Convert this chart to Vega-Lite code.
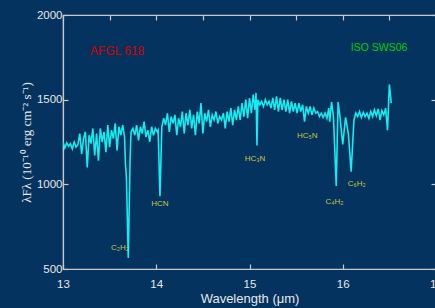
{
  "$schema": "https://vega.github.io/schema/vega-lite/v6.json",
  "width": 373,
  "height": 254,
  "autosize": {"type": "none"},
  "padding": {"left": 63, "top": 15, "right": 0, "bottom": 39},
  "background": "#04335f",
  "config": {
    "view": {"stroke": "#c8c8c8", "strokeWidth": 1.2, "fill": "#04335f"},
    "axis": {
      "domainColor": "#c8c8c8", "tickColor": "#c8c8c8", "labelColor": "#e8e8e8", "titleColor": "#e8e8e8",
      "grid": false, "labelFont": "Liberation Sans", "labelFontSize": 11.5, "tickSize": -5,
      "domainWidth": 1.2, "tickWidth": 1.2, "labelFlush": false, "labelOverlap": false
    }
  },
  "datasets": {
    "spectrum": [
      {"wl":13.00,"flux":1250},{"wl":13.02,"flux":1215},{"wl":13.04,"flux":1245},{"wl":13.06,"flux":1225},
      {"wl":13.08,"flux":1240},{"wl":13.10,"flux":1210},{"wl":13.12,"flux":1250},{"wl":13.14,"flux":1220},
      {"wl":13.16,"flux":1235},{"wl":13.18,"flux":1300},{"wl":13.20,"flux":1180},{"wl":13.22,"flux":1270},
      {"wl":13.24,"flux":1310},{"wl":13.26,"flux":1100},{"wl":13.28,"flux":1290},{"wl":13.30,"flux":1240},
      {"wl":13.32,"flux":1330},{"wl":13.34,"flux":1170},{"wl":13.36,"flux":1300},{"wl":13.38,"flux":1140},
      {"wl":13.40,"flux":1330},{"wl":13.42,"flux":1250},{"wl":13.44,"flux":1310},{"wl":13.46,"flux":1190},
      {"wl":13.48,"flux":1350},{"wl":13.50,"flux":1220},{"wl":13.52,"flux":1320},{"wl":13.54,"flux":1270},
      {"wl":13.56,"flux":1360},{"wl":13.58,"flux":1200},{"wl":13.60,"flux":1340},{"wl":13.62,"flux":1290},
      {"wl":13.64,"flux":1350},{"wl":13.66,"flux":1280},{"wl":13.67,"flux":1120},{"wl":13.68,"flux":1040},
      {"wl":13.70,"flux":565},{"wl":13.72,"flux":1160},{"wl":13.73,"flux":1310},{"wl":13.75,"flux":1330},
      {"wl":13.77,"flux":1290},{"wl":13.79,"flux":1350},{"wl":13.81,"flux":1260},{"wl":13.83,"flux":1340},
      {"wl":13.85,"flux":1300},{"wl":13.87,"flux":1370},{"wl":13.89,"flux":1280},{"wl":13.91,"flux":1320},
      {"wl":13.93,"flux":1250},{"wl":13.95,"flux":1340},{"wl":13.97,"flux":1290},{"wl":13.99,"flux":1330},
      {"wl":14.01,"flux":1310},{"wl":14.02,"flux":1320},{"wl":14.04,"flux":930},{"wl":14.06,"flux":1340},
      {"wl":14.08,"flux":1390},{"wl":14.10,"flux":1350},{"wl":14.12,"flux":1420},{"wl":14.14,"flux":1310},
      {"wl":14.16,"flux":1400},{"wl":14.18,"flux":1360},{"wl":14.20,"flux":1410},{"wl":14.22,"flux":1290},
      {"wl":14.24,"flux":1390},{"wl":14.26,"flux":1340},{"wl":14.28,"flux":1430},{"wl":14.30,"flux":1300},
      {"wl":14.32,"flux":1420},{"wl":14.34,"flux":1350},{"wl":14.36,"flux":1440},{"wl":14.38,"flux":1330},
      {"wl":14.40,"flux":1410},{"wl":14.42,"flux":1290},{"wl":14.44,"flux":1430},{"wl":14.46,"flux":1360},
      {"wl":14.48,"flux":1480},{"wl":14.50,"flux":1300},{"wl":14.52,"flux":1420},{"wl":14.54,"flux":1370},
      {"wl":14.56,"flux":1440},{"wl":14.58,"flux":1340},{"wl":14.60,"flux":1410},{"wl":14.62,"flux":1380},
      {"wl":14.64,"flux":1430},{"wl":14.66,"flux":1360},{"wl":14.68,"flux":1400},{"wl":14.70,"flux":1380},
      {"wl":14.72,"flux":1420},{"wl":14.74,"flux":1330},{"wl":14.76,"flux":1430},{"wl":14.78,"flux":1370},
      {"wl":14.80,"flux":1450},{"wl":14.82,"flux":1350},{"wl":14.84,"flux":1440},{"wl":14.86,"flux":1380},
      {"wl":14.88,"flux":1460},{"wl":14.90,"flux":1380},{"wl":14.92,"flux":1480},{"wl":14.94,"flux":1400},
      {"wl":14.96,"flux":1500},{"wl":14.98,"flux":1390},{"wl":15.00,"flux":1510},{"wl":15.02,"flux":1420},
      {"wl":15.04,"flux":1530},{"wl":15.06,"flux":1440},{"wl":15.07,"flux":1540},{"wl":15.08,"flux":1230},
      {"wl":15.09,"flux":1500},{"wl":15.11,"flux":1470},{"wl":15.13,"flux":1490},{"wl":15.15,"flux":1460},
      {"wl":15.17,"flux":1500},{"wl":15.19,"flux":1470},{"wl":15.21,"flux":1490},{"wl":15.23,"flux":1450},
      {"wl":15.25,"flux":1510},{"wl":15.27,"flux":1440},{"wl":15.29,"flux":1520},{"wl":15.31,"flux":1430},
      {"wl":15.33,"flux":1510},{"wl":15.35,"flux":1440},{"wl":15.37,"flux":1500},{"wl":15.39,"flux":1430},
      {"wl":15.41,"flux":1500},{"wl":15.43,"flux":1420},{"wl":15.45,"flux":1490},{"wl":15.47,"flux":1430},
      {"wl":15.49,"flux":1480},{"wl":15.51,"flux":1420},{"wl":15.53,"flux":1480},{"wl":15.55,"flux":1430},
      {"wl":15.57,"flux":1470},{"wl":15.59,"flux":1370},{"wl":15.61,"flux":1460},{"wl":15.63,"flux":1420},
      {"wl":15.65,"flux":1460},{"wl":15.67,"flux":1410},{"wl":15.69,"flux":1450},{"wl":15.71,"flux":1420},
      {"wl":15.73,"flux":1430},{"wl":15.75,"flux":1400},{"wl":15.77,"flux":1420},{"wl":15.79,"flux":1395},
      {"wl":15.81,"flux":1420},{"wl":15.83,"flux":1390},{"wl":15.85,"flux":1450},{"wl":15.86,"flux":1370},
      {"wl":15.88,"flux":1486},{"wl":15.90,"flux":1400},{"wl":15.93,"flux":990},{"wl":15.95,"flux":1486},
      {"wl":15.97,"flux":1400},{"wl":16.00,"flux":1235},{"wl":16.03,"flux":1395},{"wl":16.06,"flux":1300},
      {"wl":16.09,"flux":1075},{"wl":16.12,"flux":1380},{"wl":16.14,"flux":1420},{"wl":16.16,"flux":1400},
      {"wl":16.18,"flux":1430},{"wl":16.20,"flux":1395},{"wl":16.22,"flux":1425},{"wl":16.24,"flux":1400},
      {"wl":16.26,"flux":1420},{"wl":16.28,"flux":1390},{"wl":16.30,"flux":1430},{"wl":16.32,"flux":1400},
      {"wl":16.34,"flux":1440},{"wl":16.36,"flux":1405},{"wl":16.38,"flux":1445},{"wl":16.40,"flux":1380},
      {"wl":16.42,"flux":1435},{"wl":16.44,"flux":1410},{"wl":16.46,"flux":1450},{"wl":16.48,"flux":1320},
      {"wl":16.50,"flux":1590},{"wl":16.52,"flux":1480}
    ],
    "molecules": [
      {"label":"C₂H₂","wl":13.61,"flux":624},
      {"label":"HCN","wl":14.04,"flux":884},
      {"label":"HC₃N","wl":15.06,"flux":1150},
      {"label":"HC₅N","wl":15.62,"flux":1285},
      {"label":"C₄H₂","wl":15.91,"flux":896},
      {"label":"C₆H₂","wl":16.15,"flux":1002}
    ],
    "source": [{"label":"AFGL 618","wl":13.29,"flux":1785}],
    "instrument": [{"label":"ISO SWS06","wl":16.39,"flux":1805}],
    "frame": [{"wl":13,"flux":500},{"wl":17,"flux":2000}]
  },
  "layer": [
    {
      "data": {"name": "spectrum"},
      "mark": {"type": "line", "color": "#12eef2", "strokeWidth": 1.6, "clip": true},
      "encoding": {
        "x": {"field": "wl", "type": "quantitative",
          "scale": {"domain": [13, 17], "nice": false, "zero": false},
          "axis": {"orient": "bottom", "values": [13,13.5,14,14.5,15,15.5,16,16.5,17], "format": "d",
            "labelExpr": "datum.value % 1 === 0 ? datum.label : ''",
            "labelPadding": 14, "title": "Wavelength (μm)", "titleFont": "Liberation Sans",
            "titleFontSize": 13, "titleFontWeight": "normal", "titlePadding": 3}},
        "y": {"field": "flux", "type": "quantitative",
          "scale": {"domain": [500, 2000], "nice": false, "zero": false},
          "axis": {"orient": "left", "values": [500,1000,1500,2000], "format": "d", "labelPadding": 6,
            "title": "λFλ (10⁻¹⁰ erg cm⁻² s⁻¹)", "titleFont": "Liberation Serif",
            "titleFontSize": 13, "titleFontWeight": "normal", "titlePadding": 3}}
      }
    },
    {
      "data": {"name": "molecules"},
      "mark": {"type": "text", "font": "Liberation Sans", "fontSize": 8, "color": "#c8c83c", "align": "center", "baseline": "middle"},
      "encoding": {
        "x": {"field": "wl", "type": "quantitative", "axis": null},
        "y": {"field": "flux", "type": "quantitative", "axis": null},
        "text": {"field": "label"}
      }
    },
    {
      "data": {"name": "source"},
      "mark": {"type": "text", "font": "Liberation Sans", "fontSize": 12, "color": "#d40000", "align": "left", "baseline": "middle"},
      "encoding": {
        "x": {"field": "wl", "type": "quantitative", "axis": null},
        "y": {"field": "flux", "type": "quantitative", "axis": null},
        "text": {"field": "label"}
      }
    },
    {
      "data": {"name": "instrument"},
      "mark": {"type": "text", "font": "Liberation Sans", "fontSize": 10.5, "color": "#00d000", "align": "center", "baseline": "middle"},
      "encoding": {
        "x": {"field": "wl", "type": "quantitative", "axis": null},
        "y": {"field": "flux", "type": "quantitative", "axis": null},
        "text": {"field": "label"}
      }
    },
    {
      "data": {"name": "frame"},
      "mark": {"type": "point", "opacity": 0},
      "encoding": {
        "x": {"field": "wl", "type": "quantitative",
          "axis": {"orient": "top", "values": [13,13.5,14,14.5,15,15.5,16,16.5,17], "labels": false, "title": null}},
        "y": {"field": "flux", "type": "quantitative",
          "axis": {"orient": "right", "values": [500,1000,1500,2000], "labels": false, "title": null}}
      }
    }
  ],
  "resolve": {"axis": {"x": "independent", "y": "independent"}}
}
